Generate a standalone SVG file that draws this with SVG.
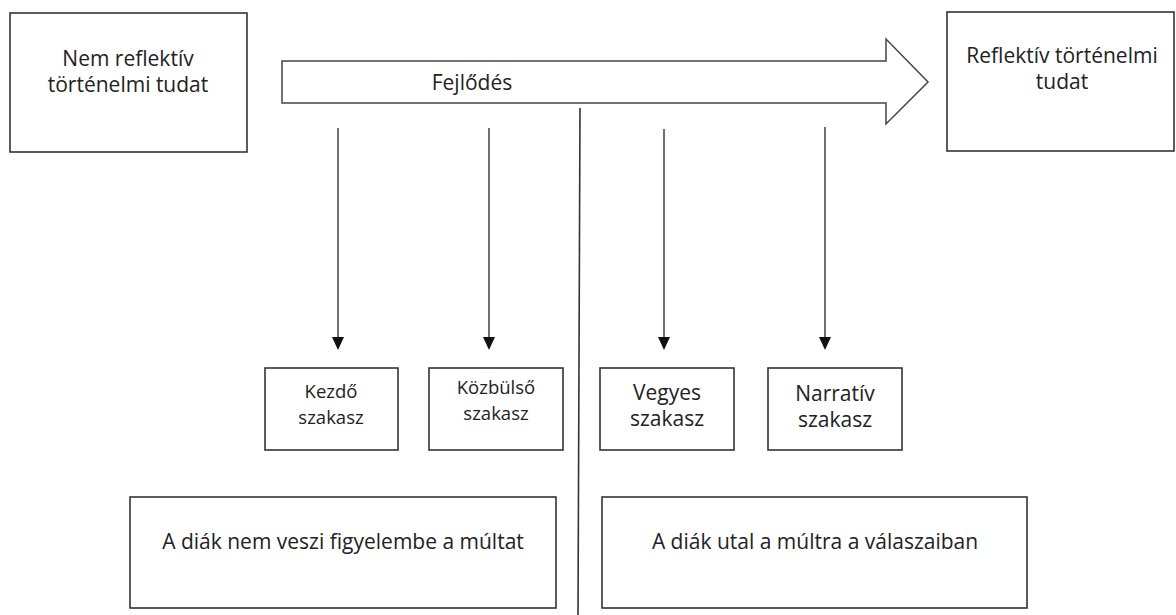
<svg xmlns="http://www.w3.org/2000/svg" width="1176" height="615" viewBox="0 0 1176 615">
<style>
.box{fill:#fff;stroke:#333;stroke-width:1.6}
.t{font-family:"Open Sans","Liberation Sans",sans-serif;font-size:21px;fill:#222;text-anchor:middle}
.s{font-size:18.5px}
.conn{stroke:#111;stroke-width:1.2;fill:none}
.head{fill:#111}
</style>
<rect width="1176" height="615" fill="#fff"/>
<g id="node-nem-reflektiv">
<rect class="box" x="10" y="13" width="237" height="139"/>
<text class="t" x="128" y="66">Nem reflektív</text>
<text class="t" x="128" y="92">történelmi tudat</text>
</g>
<g id="node-fejlodes">
<polygon points="282,61 886,61 886,39 928,82 886,124 886,103 282,103" fill="#fff" stroke="#444" stroke-width="1.5"/>
<text class="t" x="472" y="90">Fejlődés</text>
</g>
<g id="node-reflektiv">
<rect class="box" x="947" y="12" width="227" height="139"/>
<text class="t" x="1062" y="63">Reflektív történelmi</text>
<text class="t" x="1062" y="89">tudat</text>
</g>
<g id="node-kezdo">
<rect class="box" x="265" y="368" width="133" height="82"/>
<text class="t s" x="331" y="398">Kezdő</text>
<text class="t s" x="331" y="424">szakasz</text>
</g>
<g id="node-kozbulso">
<rect class="box" x="429" y="368" width="134" height="82"/>
<text class="t s" x="496" y="394">Közbülső</text>
<text class="t s" x="496" y="420">szakasz</text>
</g>
<g id="node-vegyes">
<rect class="box" x="600" y="368" width="134" height="82"/>
<text class="t" x="667" y="400">Vegyes</text>
<text class="t" x="667" y="426">szakasz</text>
</g>
<g id="node-narrativ">
<rect class="box" x="768" y="368" width="134" height="82"/>
<text class="t" x="835" y="401">Narratív</text>
<text class="t" x="835" y="427">szakasz</text>
</g>
<g id="node-nem-veszi">
<rect class="box" x="130" y="497" width="426" height="111"/>
<text class="t" x="343" y="549">A diák nem veszi figyelembe a múltat</text>
</g>
<g id="node-utal">
<rect class="box" x="602" y="497" width="425" height="111"/>
<text class="t" x="815" y="549">A diák utal a múltra a válaszaiban</text>
</g>
<g id="connectors">
<line x1="580" y1="108" x2="578" y2="615" stroke="#333" stroke-width="1.6"/>
<path class="conn" d="M338,128 V340"/>
<path class="conn" d="M489,128 V340"/>
<path class="conn" d="M664,129 V340"/>
<path class="conn" d="M825,127 V340"/>
<path class="head" d="M332,337 L344,337 L338,350 Z"/>
<path class="head" d="M483,337 L495,337 L489,350 Z"/>
<path class="head" d="M658,337 L670,337 L664,350 Z"/>
<path class="head" d="M819,337 L831,337 L825,350 Z"/>
</g>
</svg>
